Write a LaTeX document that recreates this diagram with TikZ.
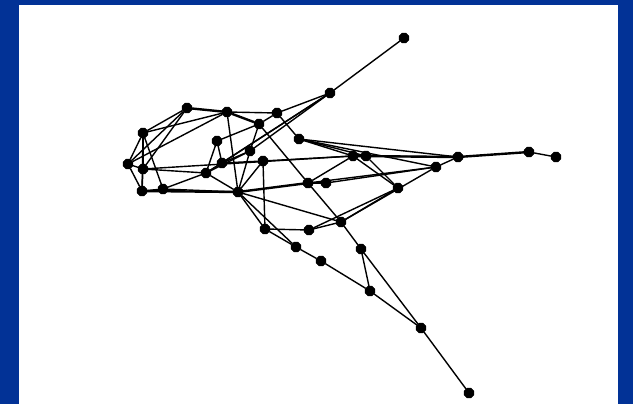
\documentclass[tikz,border=0pt]{standalone}
\usetikzlibrary{shapes.geometric}
\definecolor{slideblue}{RGB}{2,50,150}
\tikzset{
  vtx/.style={regular polygon, regular polygon sides=8, fill=black, draw=black, inner sep=0pt, minimum size=10.5pt},
  edge/.style={draw=black, line width=1.4pt},
  heavy/.style={draw=black, line width=2.4pt}
}
\begin{document}
\begin{tikzpicture}[x=1pt,y=-1pt]
\useasboundingbox (0,0) rectangle (633,404);
\fill[slideblue] (0,0) rectangle (633,404);
\fill[white] (19,5) rectangle (618,404);
% nodes
\node[vtx] (n1) at (404,38) {};
\node[vtx] (n2) at (330,93) {};
\node[vtx] (n3) at (187,108) {};
\node[vtx] (n4) at (227,112) {};
\node[vtx] (n5) at (277,113) {};
\node[vtx] (n6) at (259,124) {};
\node[vtx] (n7) at (143,133) {};
\node[vtx] (n8) at (217,141) {};
\node[vtx] (n9) at (299,139) {};
\node[vtx] (n10) at (250,151) {};
\node[vtx] (n11) at (128,164) {};
\node[vtx] (n12) at (143,169) {};
\node[vtx] (n13) at (206,173) {};
\node[vtx] (n14) at (222,163) {};
\node[vtx] (n15) at (263,161) {};
\node[vtx] (n16) at (353,156) {};
\node[vtx] (n17) at (366,156) {};
\node[vtx] (n18) at (458,157) {};
\node[vtx] (n19) at (529,152) {};
\node[vtx] (n20) at (556,157) {};
\node[vtx] (n21) at (436,167) {};
\node[vtx] (n22) at (142,191) {};
\node[vtx] (n23) at (163,189) {};
\node[vtx] (n24) at (238,192) {};
\node[vtx] (n25) at (308,183) {};
\node[vtx] (n26) at (326,183) {};
\node[vtx] (n27) at (398,188) {};
\node[vtx] (n28) at (265,229) {};
\node[vtx] (n29) at (309,230) {};
\node[vtx] (n30) at (341,222) {};
\node[vtx] (n31) at (296,247) {};
\node[vtx] (n32) at (321,261) {};
\node[vtx] (n33) at (361,249) {};
\node[vtx] (n34) at (370,291) {};
\node[vtx] (n35) at (421,328) {};
\node[vtx] (n36) at (469,393) {};
% edges
\foreach \a/\b in {
 n1/n2, n2/n5, n2/n14, n2/n13, n2/n10,
 n3/n7, n3/n12, n3/n11,
 n4/n7, n4/n11, n4/n5, n4/n24,
 n5/n6, n5/n9, n6/n8, n6/n10, n6/n25,
 n7/n11, n7/n12, n7/n22, n7/n23,
 n8/n13, n8/n14, n10/n13, n10/n14, n10/n24,
 n11/n12, n11/n22, n12/n13, n12/n22, n12/n16,
 n13/n14, n13/n23, n13/n24,
 n14/n15, n15/n16, n15/n24, n15/n28,
 n9/n16, n9/n17, n9/n18, n9/n21,
 n16/n17, n16/n25, n16/n27,
 n17/n18, n17/n27, n19/n20, n18/n21,
 n21/n26, n21/n25, n21/n30,
 n22/n23, n23/n24,
 n24/n28, n24/n31, n24/n30,
 n25/n26, n25/n30, n27/n30, n27/n29,
 n28/n29, n28/n31, n29/n30, n30/n33,
 n31/n32, n32/n34, n33/n34, n33/n35, n34/n35, n35/n36}
 \draw[edge] (\a) -- (\b);
\foreach \a/\b in {n3/n4, n4/n6, n22/n24, n24/n25, n16/n18, n18/n19}
 \draw[heavy] (\a) -- (\b);
\end{tikzpicture}
\end{document}
